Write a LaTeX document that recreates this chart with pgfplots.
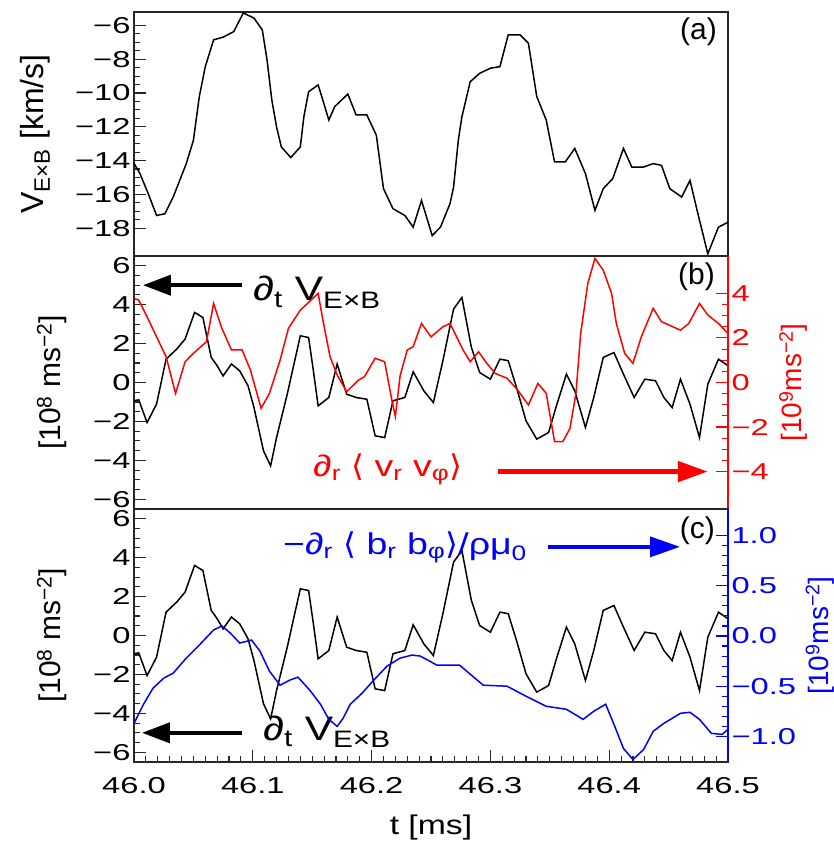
\documentclass[border=0pt]{standalone}
\usepackage{fontspec}
\setmainfont{Liberation Sans}[FakeStretch=1.25]
\newfontfamily\plainsans{Liberation Sans}
\newfontfamily\tickfont{Liberation Sans}[FakeStretch=1.42]
\newfontfamily\djs{DejaVu Sans}[FakeStretch=1.1]
\usepackage{pgfplots}
\pgfplotsset{compat=1.18}
\usepackage{pgfplotstable}
\usetikzlibrary{arrows.meta}

\pgfplotstableread{
t v
46.000 -14.16
46.005 -14.77
46.012 -15.96
46.019 -17.25
46.026 -17.15
46.033 -16.16
46.044 -14.18
46.050 -12.8
46.055 -10.2
46.060 -8.44
46.067 -6.85
46.075 -6.69
46.084 -6.36
46.092 -5.26
46.101 -5.56
46.108 -6.26
46.112 -8.04
46.116 -10.4
46.120 -12.0
46.124 -13.19
46.132 -13.82
46.140 -13.19
46.143 -11.4
46.147 -9.92
46.155 -9.52
46.158 -10.2
46.164 -11.6
46.169 -10.8
46.180 -10.06
46.187 -11.3
46.196 -11.3
46.204 -12.5
46.210 -15.66
46.218 -16.85
46.228 -17.25
46.235 -17.94
46.242 -16.36
46.251 -18.44
46.258 -17.94
46.266 -16.55
46.269 -15.57
46.273 -12.79
46.276 -11.41
46.283 -9.33
46.291 -8.83
46.300 -8.53
46.308 -8.44
46.315 -6.55
46.325 -6.55
46.332 -7.05
46.339 -10.2
46.347 -11.6
46.354 -14.08
46.363 -14.08
46.371 -13.28
46.380 -14.77
46.388 -16.95
46.395 -15.66
46.403 -15.07
46.412 -13.28
46.419 -14.38
46.429 -14.38
46.437 -14.18
46.444 -14.28
46.451 -15.66
46.461 -16.16
46.468 -15.17
46.474 -16.95
46.483 -19.52
46.492 -17.94
46.500 -17.65
}\vexb

\pgfplotstableread{
t a
46.000 -0.94
46.004 -0.89
46.011 -2.06
46.019 -1.11
46.027 1.2
46.036 1.72
46.043 2.23
46.051 3.6
46.058 3.34
46.065 1.29
46.070 0.86
46.075 0.34
46.082 0.95
46.089 0.6
46.096 -0.17
46.101 -1.29
46.109 -3.51
46.115 -4.28
46.120 -2.83
46.129 -0.6
46.134 0.77
46.140 2.4
46.147 2.31
46.151 0.6
46.155 -1.2
46.164 -0.77
46.171 0.95
46.179 -0.6
46.187 -0.77
46.196 -0.86
46.203 -2.74
46.211 -2.83
46.218 -0.94
46.228 -0.77
46.235 0.55
46.244 -0.43
46.252 -1.03
46.260 1.12
46.269 3.77
46.276 4.37
46.284 1.8
46.291 0.51
46.300 0.17
46.308 1.2
46.315 1.12
46.322 -0.26
46.330 -1.97
46.339 -2.91
46.349 -2.57
46.356 -1.11
46.364 0.43
46.371 -0.43
46.380 -2.31
46.387 -0.77
46.395 1.29
46.404 1.54
46.412 0.43
46.421 -0.77
46.430 0.17
46.439 0.09
46.446 -0.77
46.453 -1.29
46.460 0.17
46.468 -1.11
46.476 -2.83
46.483 -0.09
46.492 1.2
46.500 0.86
}\dvdt

\pgfplotstableread{
t r
46.000 3.78
46.004 3.7
46.011 2.95
46.019 2.05
46.027 1.16
46.035 -0.49
46.043 0.93
46.050 1.31
46.061 1.83
46.067 3.55
46.074 2.43
46.082 1.46
46.091 1.46
46.098 0.56
46.107 -1.16
46.114 -0.49
46.123 1.01
46.130 2.43
46.140 3.25
46.155 4.0
46.159 2.8
46.165 1.16
46.171 0.34
46.179 -0.41
46.189 0.11
46.194 0.26
46.203 1.09
46.211 0.93
46.217 -0.78
46.220 -1.53
46.224 0.3
46.230 1.46
46.235 1.61
46.242 2.65
46.250 2.05
46.260 2.5
46.266 2.65
46.277 1.46
46.283 0.93
46.290 1.38
46.297 0.86
46.304 0.41
46.314 0.19
46.323 -0.34
46.332 -1.01
46.340 -0.04
46.347 -0.49
46.354 -2.65
46.361 -2.65
46.367 -2.06
46.372 -0.49
46.376 2.2
46.382 4.45
46.388 5.57
46.395 5.04
46.402 4.0
46.406 2.65
46.413 1.31
46.420 0.86
46.427 2.05
46.437 3.33
46.444 2.73
46.460 2.35
46.467 2.65
46.476 3.55
46.483 3.03
46.492 2.65
46.500 2.2
}\reyn

\pgfplotstableread{
t m
46.000 -0.87
46.008 -0.68
46.016 -0.52
46.025 -0.42
46.033 -0.37
46.044 -0.22
46.055 -0.09
46.067 0.06
46.074 0.10
46.081 0.03
46.089 -0.07
46.099 -0.04
46.106 -0.15
46.114 -0.35
46.123 -0.49
46.131 -0.44
46.138 -0.41
46.148 -0.54
46.157 -0.68
46.164 -0.83
46.171 -0.90
46.176 -0.82
46.182 -0.68
46.192 -0.57
46.201 -0.45
46.213 -0.30
46.224 -0.22
46.234 -0.19
46.241 -0.20
46.255 -0.29
46.274 -0.29
46.294 -0.49
46.314 -0.50
46.330 -0.60
46.347 -0.70
46.364 -0.73
46.378 -0.83
46.387 -0.75
46.397 -0.68
46.404 -0.88
46.412 -1.12
46.420 -1.23
46.429 -1.13
46.437 -0.95
46.446 -0.87
46.460 -0.77
46.468 -0.76
46.476 -0.83
46.486 -0.97
46.495 -0.98
46.500 -0.93
}\maxw

\pgfplotsset{
  base/.style={
    width=594pt, scale only axis,
    xmin=46, xmax=46.5,
    tick align=inside,
    major tick length=12pt, minor tick length=6pt,
    axis line style={line width=1.3pt, black!85},
    tick style={line width=1.1pt, black!85},
    tick label style={font=\tickfont\fontsize{23}{26}\selectfont},
  },
  lefty/.style={
    ytick pos=left,
    ylabel style={font=\plainsans\fontsize{30}{36}\selectfont, anchor=center},
  },
}

\begin{document}
\begin{tikzpicture}
\path[use as bounding box] (-134pt,-84pt) rectangle (699pt,762pt);

% ---------- panel (a)
\begin{axis}[base, lefty, at={(0pt,506pt)}, anchor=south west, height=244pt,
  ymin=-19.65, ymax=-5.2,
  ytick={-18,-16,-14,-12,-10,-8,-6},
  yticklabels={−18,−16,−14,−12,−10,−8,−6},
  minor y tick num=3,
  xtick=\empty,
  ylabel={V\textsubscript{E×B} [km/s]},
  ylabel style={at={(axis description cs:-0.1667,0.5)}, font=\plainsans\fontsize{32}{38}\selectfont},
]
\addplot[black, line width=1.5pt] table[x=t, y=v] {\vexb};
\node[anchor=north east, inner sep=0pt, font=\plainsans\fontsize{30}{34}\selectfont]
  at (rel axis cs:1,1) [xshift=-11pt, yshift=-6pt] {(a)};
\end{axis}

% ---------- panel (b) left
\begin{axis}[base, lefty, at={(0pt,253pt)}, anchor=south west, height=253pt,
  ymin=-6.5, ymax=6.5,
  ytick={-6,-4,-2,0,2,4,6},
  yticklabels={−6,−4,−2,0,2,4,6},
  minor y tick num=3,
  xtick=\empty,
  ylabel={[10\textsuperscript{8} ms\textsuperscript{−2}]},
  ylabel style={at={(axis description cs:-0.138,0.5)}},
]
\addplot[black, line width=1.5pt] table[x=t, y=a] {\dvdt};
\draw[black, line width=4pt, -{Triangle[length=28pt,width=20pt]}]
  (axis cs:46.091,5) -- (axis cs:46.0075,5);
\node[anchor=base west, inner sep=0pt, font=\fontsize{34}{40}\selectfont]
  at (axis cs:46.1002,4.2) {∂\textsubscript{t} V\textsubscript{E×B}};
\node[anchor=north east, inner sep=0pt, font=\plainsans\fontsize{30}{34}\selectfont]
  at (rel axis cs:1,1) [xshift=-13pt, yshift=-7pt] {(b)};
\end{axis}

% ---------- panel (b) right (red)
\begin{axis}[base, at={(0pt,253pt)}, anchor=south west, height=253pt,
  axis y line*=right, axis x line=none,
  ymin=-5.68, ymax=5.68,
  ytick={-4,-2,0,2,4},
  yticklabels={−4,−2,0,2,4},
  minor y tick num=3,
  axis line style={line width=1.3pt, red},
  tick style={line width=1.1pt, red},
  yticklabel style={red},
  ylabel={[10\textsuperscript{9}ms\textsuperscript{−2}]},
  ylabel style={red, font=\plainsans\fontsize{28}{34}\selectfont,
    at={(axis description cs:1.11,0.5)}, anchor=center},
]
\addplot[red, line width=1.5pt] table[x=t, y=r] {\reyn};
\draw[red, line width=5pt, -{Triangle[length=30pt,width=20pt]}]
  (axis cs:46.306,-4) -- (axis cs:46.483,-4);
\node[anchor=base west, inner sep=0pt, red, font=\fontsize{30}{36}\selectfont]
  at (axis cs:46.1507,-4.22) {∂\textsubscript{r} {\djs ⟨} v\textsubscript{r} v\textsubscript{φ}{\djs ⟩}};
\end{axis}

% ---------- panel (c) left
\begin{axis}[base, lefty, at={(0pt,0pt)}, anchor=south west, height=253pt,
  ymin=-6.5, ymax=6.5,
  ytick={-6,-4,-2,0,2,4,6},
  yticklabels={−6,−4,−2,0,2,4,6},
  minor y tick num=3,
  xtick={46.0,46.1,46.2,46.3,46.4,46.5},
  xticklabels={46.0,46.1,46.2,46.3,46.4,46.5},
  xtick pos=bottom,
  minor x tick num=9,
  xticklabel style={yshift=-12pt},
  xlabel={t [ms]},
  xlabel style={font=\fontsize{27}{32}\selectfont, at={(axis description cs:0.5,0)}, anchor=center, yshift=-66pt},
  ylabel={[10\textsuperscript{8} ms\textsuperscript{−2}]},
  ylabel style={at={(axis description cs:-0.138,0.5)}},
]
\addplot[black, line width=1.5pt] table[x=t, y=a] {\dvdt};
\draw[black, line width=4pt, -{Triangle[length=28pt,width=20pt]}]
  (axis cs:46.091,-5) -- (axis cs:46.0067,-5);
\node[anchor=base west, inner sep=0pt, font=\fontsize{34}{40}\selectfont]
  at (axis cs:46.1086,-5.37) {∂\textsubscript{t} V\textsubscript{E×B}};
\node[anchor=north east, inner sep=0pt, font=\plainsans\fontsize{30}{34}\selectfont]
  at (rel axis cs:1,1) [xshift=-13pt, yshift=-8pt] {(c)};
\end{axis}

% ---------- panel (c) right (blue)
\begin{axis}[base, at={(0pt,0pt)}, anchor=south west, height=253pt,
  axis y line*=right, axis x line=none,
  ymin=-1.255, ymax=1.265,
  ytick={-1,-0.5,0,0.5,1},
  yticklabels={−1.0,−0.5,0.0,0.5,1.0},
  minor y tick num=4,
  axis line style={line width=1.3pt, blue},
  tick style={line width=1.1pt, blue},
  yticklabel style={blue},
  ylabel={[10\textsuperscript{9}ms\textsuperscript{−2}]},
  ylabel style={blue, font=\plainsans\fontsize{28}{34}\selectfont,
    at={(axis description cs:1.155,0.5)}, anchor=center},
]
\addplot[blue, line width=1.5pt] table[x=t, y=m] {\maxw};
\draw[blue, line width=3.5pt, -{Triangle[length=30pt,width=20pt]}]
  (axis cs:46.3485,0.888) -- (axis cs:46.4596,0.888);
\node[anchor=base west, inner sep=0pt, blue, font=\fontsize{30}{36}\selectfont]
  at (axis cs:46.1254,0.808) {−∂\textsubscript{r} {\djs ⟨} b\textsubscript{r} b\textsubscript{φ}{\djs ⟩}/ρμ\textsubscript{0}};
\end{axis}
\end{tikzpicture}
\end{document}
